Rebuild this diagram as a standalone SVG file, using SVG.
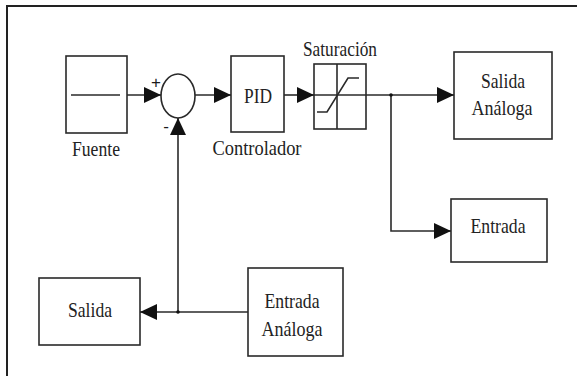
<svg xmlns="http://www.w3.org/2000/svg" width="577" height="376" viewBox="0 0 577 376">
<defs>
<style>
.box{fill:#fff;stroke:#2a2a2a;stroke-width:1.6}
.ln{fill:none;stroke:#2a2a2a;stroke-width:1.6}
.t{font-family:"Liberation Serif","Times New Roman",serif;font-size:22px;fill:#222;text-anchor:middle}
.s{font-family:"Liberation Sans",Arial,sans-serif;font-size:17px;fill:#1a1a1a;text-anchor:middle}
</style>
<marker id="ah" markerUnits="userSpaceOnUse" markerWidth="17" markerHeight="17" refX="17" refY="8" orient="auto">
<path d="M0,0 L17,8 L0,16 z" fill="#111"/>
</marker>
</defs>
<rect x="0" y="0" width="577" height="376" fill="#fff"/>
<rect x="7" y="6" width="580" height="380" fill="none" stroke="#222" stroke-width="2"/>

<g id="fuente">
<rect class="box" x="66" y="56" width="61" height="77"/>
<line class="ln" x1="71" y1="95" x2="120" y2="95"/>
<text class="t" x="96" y="156" textLength="48" lengthAdjust="spacingAndGlyphs">Fuente</text>
</g>

<g id="sumador">
<ellipse class="box" cx="178" cy="96" rx="17" ry="22"/>
<text class="s" x="156" y="88">+</text>
<text class="s" x="166" y="132">-</text>
</g>

<g id="pid">
<rect class="box" x="231" y="56" width="53" height="76"/>
<text class="t" x="258" y="103" textLength="28" lengthAdjust="spacingAndGlyphs">PID</text>
<text class="t" x="257" y="155" textLength="89" lengthAdjust="spacingAndGlyphs">Controlador</text>
</g>

<g id="saturacion">
<rect class="box" x="314" y="64" width="52" height="65"/>
<line class="ln" x1="337" y1="64" x2="337" y2="129"/>
<line class="ln" x1="314" y1="95" x2="366" y2="95"/>
<polyline class="ln" points="317,112 327,112 348,78 359,78"/>
<text class="t" x="340" y="56" textLength="74" lengthAdjust="spacingAndGlyphs">Saturación</text>
</g>

<g id="salida-analoga">
<rect class="box" x="454" y="52" width="98" height="87"/>
<text class="t" x="503" y="88" textLength="44" lengthAdjust="spacingAndGlyphs">Salida</text>
<text class="t" x="502" y="115" textLength="61" lengthAdjust="spacingAndGlyphs">Análoga</text>
</g>

<g id="entrada">
<rect class="box" x="451" y="199" width="96" height="63"/>
<text class="t" x="498" y="233" textLength="55" lengthAdjust="spacingAndGlyphs">Entrada</text>
</g>

<g id="entrada-analoga">
<rect class="box" x="248" y="268" width="95" height="88"/>
<text class="t" x="292" y="308" textLength="55" lengthAdjust="spacingAndGlyphs">Entrada</text>
<text class="t" x="292" y="336" textLength="61" lengthAdjust="spacingAndGlyphs">Análoga</text>
</g>

<g id="salida">
<rect class="box" x="39" y="278" width="101" height="67"/>
<text class="t" x="90" y="317" textLength="44" lengthAdjust="spacingAndGlyphs">Salida</text>
</g>

<g id="connectors">
<path class="ln" d="M127,95 L161,95" marker-end="url(#ah)"/>
<path class="ln" d="M195,95 L231,95" marker-end="url(#ah)"/>
<path class="ln" d="M284,95 L314,95" marker-end="url(#ah)"/>
<path class="ln" d="M366,95 L454,95" marker-end="url(#ah)"/>
<path class="ln" d="M391,95 L391,231 L451,231" marker-end="url(#ah)"/>
<path class="ln" d="M248,312 L140,312" marker-end="url(#ah)"/>
<path class="ln" d="M178,312 L178,118" marker-end="url(#ah)"/>
<circle cx="391" cy="95" r="1.8" fill="#111"/>
<circle cx="178" cy="312" r="1.8" fill="#111"/>
</g>
</svg>
